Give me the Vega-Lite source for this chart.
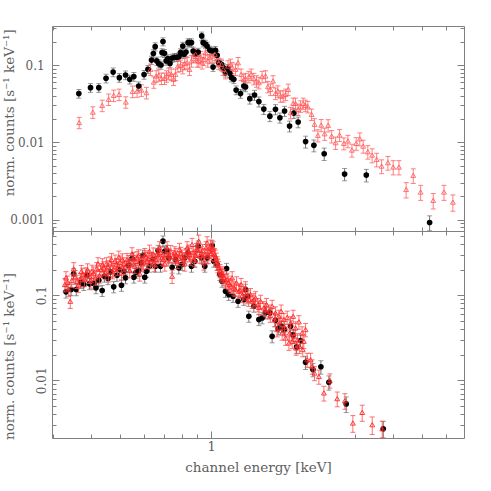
{
"$schema": "https://vega.github.io/schema/vega-lite/v6.json",
"padding": {"left": 1, "top": 22, "right": 5, "bottom": 5},
"config": {
  "view": {"stroke": null},
  "axis": {"grid": false, "domainColor": "#808080", "tickColor": "#808080", "labelColor": "#606060", "titleColor": "#606060", "labelFont": "DejaVu Serif", "titleFont": "DejaVu Serif", "labelFontSize": 12, "titleFontSize": 13.5, "titleFontWeight": "normal", "domainWidth": 1, "tickWidth": 1, "labelOverlap": false}
},
"datasets": {
"topBlack": [
{"e":0.365,"v":0.0427,"err":0.0055},{"e":0.399,"v":0.0509,"err":0.0066},{"e":0.425,"v":0.0509,"err":0.0066},{"e":0.449,"v":0.0673,"err":0.0087},{"e":0.474,"v":0.0811,"err":0.0105},{"e":0.497,"v":0.0687,"err":0.0089},{"e":0.521,"v":0.0742,"err":0.0096},{"e":0.538,"v":0.0653,"err":0.0085},{"e":0.555,"v":0.0708,"err":0.0092},{"e":0.576,"v":0.0535,"err":0.007},{"e":0.6,"v":0.0752,"err":0.0098},{"e":0.618,"v":0.088,"err":0.0106},{"e":0.635,"v":0.116,"err":0.014},{"e":0.644,"v":0.141,"err":0.017},{"e":0.653,"v":0.173,"err":0.021},{"e":0.661,"v":0.113,"err":0.0136},{"e":0.671,"v":0.104,"err":0.0125},{"e":0.683,"v":0.1,"err":0.012},{"e":0.688,"v":0.145,"err":0.0174},{"e":0.693,"v":0.201,"err":0.024},{"e":0.701,"v":0.142,"err":0.017},{"e":0.71,"v":0.113,"err":0.0136},{"e":0.719,"v":0.121,"err":0.0145},{"e":0.731,"v":0.105,"err":0.0126},{"e":0.743,"v":0.123,"err":0.0148},{"e":0.757,"v":0.126,"err":0.0151},{"e":0.77,"v":0.126,"err":0.0151},{"e":0.782,"v":0.128,"err":0.0154},{"e":0.792,"v":0.145,"err":0.0174},{"e":0.798,"v":0.141,"err":0.0169},{"e":0.806,"v":0.176,"err":0.021},{"e":0.814,"v":0.138,"err":0.0166},{"e":0.826,"v":0.147,"err":0.0176},{"e":0.839,"v":0.195,"err":0.023},{"e":0.848,"v":0.195,"err":0.023},{"e":0.861,"v":0.195,"err":0.023},{"e":0.872,"v":0.152,"err":0.018},{"e":0.888,"v":0.138,"err":0.0166},{"e":0.906,"v":0.147,"err":0.0176},{"e":0.931,"v":0.238,"err":0.029},{"e":0.941,"v":0.195,"err":0.023},{"e":0.958,"v":0.187,"err":0.022},{"e":0.97,"v":0.176,"err":0.021},{"e":0.99,"v":0.156,"err":0.019},{"e":1.008,"v":0.152,"err":0.018},{"e":1.015,"v":0.094,"err":0.0113},{"e":1.034,"v":0.155,"err":0.019},{"e":1.047,"v":0.134,"err":0.016},{"e":1.06,"v":0.107,"err":0.0128},{"e":1.082,"v":0.102,"err":0.0122},{"e":1.096,"v":0.0925,"err":0.0111},{"e":1.116,"v":0.0797,"err":0.0096},{"e":1.138,"v":0.0906,"err":0.0109},{"e":1.153,"v":0.0781,"err":0.0094},{"e":1.168,"v":0.0687,"err":0.0082},{"e":1.189,"v":0.0653,"err":0.0078},{"e":1.21,"v":0.0474,"err":0.0062},{"e":1.251,"v":0.0427,"err":0.0056},{"e":1.283,"v":0.0535,"err":0.007},{"e":1.3,"v":0.0519,"err":0.0067},{"e":1.343,"v":0.0367,"err":0.0055},{"e":1.392,"v":0.0409,"err":0.0061},{"e":1.439,"v":0.0336,"err":0.005},{"e":1.494,"v":0.0269,"err":0.004},{"e":1.565,"v":0.0218,"err":0.0033},{"e":1.633,"v":0.0267,"err":0.004},{"e":1.689,"v":0.0208,"err":0.0031},{"e":1.75,"v":0.0254,"err":0.0038},{"e":1.818,"v":0.0162,"err":0.0026},{"e":1.879,"v":0.0239,"err":0.0036},{"e":1.941,"v":0.0183,"err":0.0029},{"e":2.054,"v":0.0102,"err":0.0018},{"e":2.188,"v":0.00912,"err":0.0016},{"e":2.367,"v":0.00711,"err":0.0013},{"e":2.765,"v":0.00387,"err":0.0007},{"e":3.262,"v":0.00376,"err":0.0007},{"e":5.285,"v":0.000916,"err":0.0002}
],
"topRed": [
{"e":0.366,"v":0.018,"err":0.003},{"e":0.406,"v":0.0246,"err":0.0042},{"e":0.436,"v":0.03,"err":0.0051},{"e":0.458,"v":0.036,"err":0.0061},{"e":0.476,"v":0.0405,"err":0.0069},{"e":0.496,"v":0.0417,"err":0.0071},{"e":0.522,"v":0.0332,"err":0.0056},{"e":0.55,"v":0.0456,"err":0.0078},{"e":0.569,"v":0.046,"err":0.0078},{"e":0.588,"v":0.0474,"err":0.0081},{"e":0.611,"v":0.0439,"err":0.0075},{"e":0.63,"v":0.088,"err":0.015},{"e":0.646,"v":0.0602,"err":0.0102},{"e":0.658,"v":0.0721,"err":0.0123},{"e":0.671,"v":0.0742,"err":0.0126},{"e":0.685,"v":0.0673,"err":0.0114},{"e":0.701,"v":0.0673,"err":0.0114},{"e":0.712,"v":0.0721,"err":0.0123},{"e":0.724,"v":0.0781,"err":0.0133},{"e":0.738,"v":0.0758,"err":0.0129},{"e":0.751,"v":0.0653,"err":0.0111},{"e":0.762,"v":0.0758,"err":0.0129},{"e":0.776,"v":0.0971,"err":0.0165},{"e":0.792,"v":0.0991,"err":0.0168},{"e":0.806,"v":0.0925,"err":0.0157},{"e":0.818,"v":0.105,"err":0.0179},{"e":0.833,"v":0.107,"err":0.0182},{"e":0.848,"v":0.088,"err":0.015},{"e":0.861,"v":0.113,"err":0.0192},{"e":0.877,"v":0.131,"err":0.0223},{"e":0.888,"v":0.138,"err":0.0235},{"e":0.899,"v":0.113,"err":0.0192},{"e":0.91,"v":0.113,"err":0.0192},{"e":0.923,"v":0.128,"err":0.0218},{"e":0.934,"v":0.107,"err":0.0182},{"e":0.946,"v":0.1186,"err":0.0202},{"e":0.958,"v":0.145,"err":0.0247},{"e":0.975,"v":0.113,"err":0.0192},{"e":0.99,"v":0.125,"err":0.0213},{"e":1.008,"v":0.131,"err":0.0223},{"e":1.029,"v":0.138,"err":0.0235},{"e":1.047,"v":0.116,"err":0.0197},{"e":1.06,"v":0.105,"err":0.0179},{"e":1.082,"v":0.102,"err":0.0173},{"e":1.096,"v":0.088,"err":0.015},{"e":1.116,"v":0.0797,"err":0.0135},{"e":1.138,"v":0.0971,"err":0.0165},{"e":1.159,"v":0.102,"err":0.0173},{"e":1.174,"v":0.0925,"err":0.0157},{"e":1.205,"v":0.088,"err":0.015},{"e":1.228,"v":0.107,"err":0.0182},{"e":1.257,"v":0.0758,"err":0.0129},{"e":1.283,"v":0.0653,"err":0.0111},{"e":1.3,"v":0.0667,"err":0.0113},{"e":1.333,"v":0.0708,"err":0.012},{"e":1.357,"v":0.0758,"err":0.0129},{"e":1.385,"v":0.0667,"err":0.0113},{"e":1.413,"v":0.0621,"err":0.0106},{"e":1.439,"v":0.0592,"err":0.0101},{"e":1.475,"v":0.0708,"err":0.012},{"e":1.514,"v":0.0721,"err":0.0123},{"e":1.541,"v":0.0525,"err":0.0089},{"e":1.573,"v":0.0484,"err":0.0082},{"e":1.603,"v":0.0621,"err":0.0106},{"e":1.633,"v":0.043,"err":0.0073},{"e":1.663,"v":0.046,"err":0.0078},{"e":1.698,"v":0.0397,"err":0.0067},{"e":1.731,"v":0.0397,"err":0.0067},{"e":1.764,"v":0.0417,"err":0.0071},{"e":1.799,"v":0.0484,"err":0.0082},{"e":1.832,"v":0.0242,"err":0.0041},{"e":1.868,"v":0.0319,"err":0.0054},{"e":1.903,"v":0.0319,"err":0.0054},{"e":1.941,"v":0.0267,"err":0.0045},{"e":1.977,"v":0.0294,"err":0.005},{"e":2.017,"v":0.0319,"err":0.0054},{"e":2.054,"v":0.03,"err":0.0051},{"e":2.09,"v":0.0289,"err":0.0049},{"e":2.15,"v":0.023,"err":0.0039},{"e":2.199,"v":0.0171,"err":0.0031},{"e":2.255,"v":0.0123,"err":0.0022},{"e":2.313,"v":0.0167,"err":0.003},{"e":2.375,"v":0.0129,"err":0.0023},{"e":2.439,"v":0.0166,"err":0.003},{"e":2.505,"v":0.012,"err":0.0022},{"e":2.582,"v":0.00988,"err":0.0018},{"e":2.662,"v":0.0124,"err":0.0022},{"e":2.75,"v":0.00968,"err":0.0017},{"e":2.836,"v":0.0104,"err":0.0019},{"e":2.924,"v":0.00793,"err":0.0015},{"e":3.02,"v":0.00968,"err":0.0018},{"e":3.105,"v":0.0111,"err":0.0021},{"e":3.186,"v":0.00893,"err":0.0017},{"e":3.3,"v":0.00755,"err":0.0015},{"e":3.41,"v":0.00682,"err":0.0014},{"e":3.53,"v":0.006,"err":0.0012},{"e":3.665,"v":0.00492,"err":0.001},{"e":3.846,"v":0.00545,"err":0.0011},{"e":4.005,"v":0.00478,"err":0.001},{"e":4.183,"v":0.00478,"err":0.001},{"e":4.42,"v":0.00245,"err":0.00055},{"e":4.666,"v":0.00373,"err":0.0008},{"e":4.935,"v":0.00227,"err":0.0005},{"e":5.433,"v":0.00177,"err":0.0004},{"e":5.896,"v":0.00227,"err":0.0005},{"e":6.31,"v":0.00168,"err":0.0004}
],
"botBlack": [
{"e":0.331,"v":0.1096,"err":0.017},{"e":0.344,"v":0.1167,"err":0.018},{"e":0.351,"v":0.1785,"err":0.027},{"e":0.358,"v":0.1167,"err":0.018},{"e":0.371,"v":0.141,"err":0.021},{"e":0.379,"v":0.1336,"err":0.02},{"e":0.3885,"v":0.1719,"err":0.026},{"e":0.396,"v":0.1362,"err":0.02},{"e":0.409,"v":0.1373,"err":0.021},{"e":0.416,"v":0.1222,"err":0.018},{"e":0.425,"v":0.1501,"err":0.023},{"e":0.436,"v":0.1136,"err":0.017},{"e":0.4436,"v":0.1673,"err":0.025},{"e":0.456,"v":0.1572,"err":0.024},{"e":0.4645,"v":0.1885,"err":0.028},{"e":0.476,"v":0.1256,"err":0.019},{"e":0.488,"v":0.1719,"err":0.026},{"e":0.497,"v":0.2006,"err":0.03},{"e":0.505,"v":0.1311,"err":0.02},{"e":0.514,"v":0.1915,"err":0.029},{"e":0.521,"v":0.1602,"err":0.024},{"e":0.534,"v":0.2254,"err":0.034},{"e":0.5475,"v":0.27,"err":0.04},{"e":0.555,"v":0.1628,"err":0.024},{"e":0.5645,"v":0.1864,"err":0.028},{"e":0.576,"v":0.1952,"err":0.029},{"e":0.5864,"v":0.2405,"err":0.036},{"e":0.594,"v":0.2955,"err":0.044},{"e":0.6031,"v":0.1628,"err":0.024},{"e":0.611,"v":0.1915,"err":0.029},{"e":0.6252,"v":0.2194,"err":0.033},{"e":0.641,"v":0.263,"err":0.039},{"e":0.6544,"v":0.2194,"err":0.033},{"e":0.6676,"v":0.336,"err":0.05},{"e":0.68,"v":0.2194,"err":0.033},{"e":0.693,"v":0.432,"err":0.065},{"e":0.7026,"v":0.329,"err":0.049},{"e":0.7149,"v":0.336,"err":0.05},{"e":0.724,"v":0.2754,"err":0.041},{"e":0.743,"v":0.2135,"err":0.032},{"e":0.762,"v":0.263,"err":0.039},{"e":0.782,"v":0.21,"err":0.032},{"e":0.8017,"v":0.2297,"err":0.034},{"e":0.818,"v":0.2754,"err":0.041},{"e":0.839,"v":0.315,"err":0.047},{"e":0.861,"v":0.2194,"err":0.033},{"e":0.883,"v":0.251,"err":0.038},{"e":0.906,"v":0.377,"err":0.057},{"e":0.929,"v":0.2754,"err":0.041},{"e":0.953,"v":0.2194,"err":0.033},{"e":0.97,"v":0.2754,"err":0.041},{"e":1.008,"v":0.384,"err":0.058},{"e":1.021,"v":0.251,"err":0.038},{"e":1.047,"v":0.2297,"err":0.034},{"e":1.069,"v":0.1752,"err":0.026},{"e":1.087,"v":0.1461,"err":0.022},{"e":1.116,"v":0.1114,"err":0.017},{"e":1.125,"v":0.206,"err":0.031},{"e":1.144,"v":0.1019,"err":0.015},{"e":1.182,"v":0.0973,"err":0.015},{"e":1.228,"v":0.085,"err":0.013},{"e":1.283,"v":0.089,"err":0.013},{"e":1.3,"v":0.1167,"err":0.018},{"e":1.323,"v":0.0973,"err":0.015},{"e":1.333,"v":0.0566,"err":0.0085},{"e":1.385,"v":0.0742,"err":0.011},{"e":1.439,"v":0.0518,"err":0.0078},{"e":1.475,"v":0.0542,"err":0.0081},{"e":1.514,"v":0.0621,"err":0.0093},{"e":1.565,"v":0.0621,"err":0.0093},{"e":1.592,"v":0.0329,"err":0.0053},{"e":1.633,"v":0.0508,"err":0.0081},{"e":1.667,"v":0.0406,"err":0.0065},{"e":1.71,"v":0.0432,"err":0.0069},{"e":1.75,"v":0.0395,"err":0.0063},{"e":1.832,"v":0.0432,"err":0.0069},{"e":1.868,"v":0.0342,"err":0.0055},{"e":1.918,"v":0.0247,"err":0.004},{"e":1.977,"v":0.0293,"err":0.0047},{"e":2.054,"v":0.0163,"err":0.0029},{"e":2.172,"v":0.0134,"err":0.0024},{"e":2.308,"v":0.0144,"err":0.0026},{"e":2.453,"v":0.00947,"err":0.0018},{"e":2.799,"v":0.00528,"err":0.0011},{"e":3.712,"v":0.0027,"err":0.0006}
],
"botRed": [
{"e":0.328,"v":0.1336,"err":0.024},{"e":0.331,"v":0.1602,"err":0.029},{"e":0.342,"v":0.085,"err":0.015},{"e":0.351,"v":0.2045,"err":0.037},{"e":0.36,"v":0.1461,"err":0.026},{"e":0.369,"v":0.153,"err":0.028},{"e":0.376,"v":0.1752,"err":0.032},{"e":0.3855,"v":0.1785,"err":0.032},{"e":0.396,"v":0.1673,"err":0.03},{"e":0.4036,"v":0.1915,"err":0.034},{"e":0.4143,"v":0.1602,"err":0.029},{"e":0.4224,"v":0.234,"err":0.042},{"e":0.4322,"v":0.2006,"err":0.036},{"e":0.4412,"v":0.21,"err":0.038},{"e":0.4503,"v":0.234,"err":0.042},{"e":0.458,"v":0.1752,"err":0.032},{"e":0.468,"v":0.263,"err":0.047},{"e":0.476,"v":0.2006,"err":0.036},{"e":0.486,"v":0.2297,"err":0.041},{"e":0.495,"v":0.28,"err":0.05},{"e":0.505,"v":0.1834,"err":0.033},{"e":0.514,"v":0.234,"err":0.042},{"e":0.527,"v":0.263,"err":0.047},{"e":0.538,"v":0.1952,"err":0.035},{"e":0.5475,"v":0.307,"err":0.055},{"e":0.559,"v":0.2194,"err":0.039},{"e":0.569,"v":0.2754,"err":0.05},{"e":0.5806,"v":0.1785,"err":0.032},{"e":0.5909,"v":0.234,"err":0.042},{"e":0.6031,"v":0.301,"err":0.054},{"e":0.6138,"v":0.251,"err":0.045},{"e":0.6252,"v":0.329,"err":0.059},{"e":0.6377,"v":0.27,"err":0.049},{"e":0.6494,"v":0.2297,"err":0.041},{"e":0.6625,"v":0.301,"err":0.054},{"e":0.6747,"v":0.361,"err":0.065},{"e":0.688,"v":0.2754,"err":0.05},{"e":0.7026,"v":0.234,"err":0.042},{"e":0.7149,"v":0.361,"err":0.065},{"e":0.728,"v":0.2955,"err":0.053},{"e":0.743,"v":0.1673,"err":0.03},{"e":0.758,"v":0.315,"err":0.057},{"e":0.7717,"v":0.251,"err":0.045},{"e":0.786,"v":0.345,"err":0.062},{"e":0.8017,"v":0.2876,"err":0.052},{"e":0.818,"v":0.234,"err":0.042},{"e":0.833,"v":0.361,"err":0.065},{"e":0.848,"v":0.301,"err":0.054},{"e":0.865,"v":0.395,"err":0.071},{"e":0.881,"v":0.263,"err":0.047},{"e":0.895,"v":0.345,"err":0.062},{"e":0.91,"v":0.432,"err":0.078},{"e":0.929,"v":0.315,"err":0.057},{"e":0.946,"v":0.2405,"err":0.043},{"e":0.9625,"v":0.361,"err":0.065},{"e":0.9775,"v":0.2876,"err":0.052},{"e":0.97,"v":0.4135,"err":0.074},{"e":0.9954,"v":0.377,"err":0.068},{"e":1.008,"v":0.345,"err":0.062},{"e":1.026,"v":0.301,"err":0.054},{"e":1.034,"v":0.2876,"err":0.052},{"e":1.047,"v":0.2405,"err":0.043},{"e":1.06,"v":0.21,"err":0.038},{"e":1.087,"v":0.1834,"err":0.033},{"e":1.102,"v":0.1602,"err":0.029},{"e":1.13,"v":0.153,"err":0.028},{"e":1.153,"v":0.1336,"err":0.024},{"e":1.174,"v":0.1602,"err":0.029},{"e":1.189,"v":0.1222,"err":0.022},{"e":1.214,"v":0.1399,"err":0.025},{"e":1.235,"v":0.1114,"err":0.02},{"e":1.257,"v":0.1336,"err":0.024},{"e":1.283,"v":0.1067,"err":0.019},{"e":1.3,"v":0.1222,"err":0.022},{"e":1.316,"v":0.0973,"err":0.018},{"e":1.35,"v":0.1019,"err":0.018},{"e":1.367,"v":0.085,"err":0.015},{"e":1.403,"v":0.0932,"err":0.017},{"e":1.428,"v":0.0777,"err":0.014},{"e":1.458,"v":0.085,"err":0.015},{"e":1.494,"v":0.0711,"err":0.013},{"e":1.525,"v":0.0777,"err":0.014},{"e":1.553,"v":0.0648,"err":0.012},{"e":1.592,"v":0.0742,"err":0.013},{"e":1.633,"v":0.0621,"err":0.011},{"e":1.654,"v":0.0395,"err":0.0071},{"e":1.676,"v":0.0566,"err":0.01},{"e":1.705,"v":0.0648,"err":0.012},{"e":1.718,"v":0.0361,"err":0.0065},{"e":1.741,"v":0.0518,"err":0.0093},{"e":1.764,"v":0.0315,"err":0.0057},{"e":1.786,"v":0.0551,"err":0.0099},{"e":1.809,"v":0.0275,"err":0.005},{"e":1.832,"v":0.0474,"err":0.0085},{"e":1.855,"v":0.0288,"err":0.0052},{"e":1.868,"v":0.0566,"err":0.01},{"e":1.903,"v":0.0413,"err":0.0074},{"e":1.91,"v":0.024,"err":0.0043},{"e":1.952,"v":0.0487,"err":0.0088},{"e":1.96,"v":0.0251,"err":0.0045},{"e":2.001,"v":0.0361,"err":0.0065},{"e":2.01,"v":0.023,"err":0.0041},{"e":2.027,"v":0.0288,"err":0.0052},{"e":2.054,"v":0.0395,"err":0.0071},{"e":2.079,"v":0.0175,"err":0.0033},{"e":2.134,"v":0.0175,"err":0.0033},{"e":2.16,"v":0.0146,"err":0.0028},{"e":2.199,"v":0.0122,"err":0.0023},{"e":2.273,"v":0.0111,"err":0.0021},{"e":2.362,"v":0.00711,"err":0.0014},{"e":2.472,"v":0.01,"err":0.0019},{"e":2.614,"v":0.00609,"err":0.0012},{"e":2.771,"v":0.00577,"err":0.0012},{"e":2.945,"v":0.00315,"err":0.0007},{"e":3.162,"v":0.0042,"err":0.0009},{"e":3.413,"v":0.00301,"err":0.0007},{"e":3.684,"v":0.0027,"err":0.0006},
{"e":0.335,"v":0.142,"err":0.026},{"e":0.338,"v":0.118,"err":0.021},{"e":0.346,"v":0.15,"err":0.027},{"e":0.355,"v":0.165,"err":0.03},{"e":0.364,"v":0.132,"err":0.024},{"e":0.372,"v":0.19,"err":0.034},{"e":0.381,"v":0.155,"err":0.028},{"e":0.39,"v":0.198,"err":0.036},{"e":0.4,"v":0.148,"err":0.027},{"e":0.408,"v":0.182,"err":0.033},{"e":0.418,"v":0.205,"err":0.037},{"e":0.427,"v":0.17,"err":0.031},{"e":0.437,"v":0.228,"err":0.041},{"e":0.446,"v":0.185,"err":0.033},{"e":0.455,"v":0.215,"err":0.039},{"e":0.463,"v":0.24,"err":0.043},{"e":0.472,"v":0.19,"err":0.034},{"e":0.481,"v":0.252,"err":0.045},{"e":0.49,"v":0.21,"err":0.038},{"e":0.5,"v":0.245,"err":0.044},{"e":0.509,"v":0.26,"err":0.047},{"e":0.519,"v":0.215,"err":0.039},{"e":0.532,"v":0.248,"err":0.045},{"e":0.542,"v":0.228,"err":0.041},{"e":0.553,"v":0.27,"err":0.049},{"e":0.563,"v":0.25,"err":0.045},{"e":0.575,"v":0.29,"err":0.052},{"e":0.585,"v":0.262,"err":0.047},{"e":0.597,"v":0.245,"err":0.044},{"e":0.608,"v":0.282,"err":0.051},{"e":0.619,"v":0.27,"err":0.049},{"e":0.631,"v":0.25,"err":0.045},{"e":0.643,"v":0.305,"err":0.055},{"e":0.656,"v":0.262,"err":0.047},{"e":0.668,"v":0.29,"err":0.052},{"e":0.681,"v":0.318,"err":0.057},{"e":0.695,"v":0.265,"err":0.048},{"e":0.708,"v":0.3,"err":0.054},{"e":0.721,"v":0.268,"err":0.048},{"e":0.735,"v":0.325,"err":0.059},{"e":0.75,"v":0.285,"err":0.051},{"e":0.765,"v":0.3,"err":0.054},{"e":0.779,"v":0.272,"err":0.049},{"e":0.794,"v":0.31,"err":0.056},{"e":0.81,"v":0.268,"err":0.048},{"e":0.826,"v":0.3,"err":0.054},{"e":0.841,"v":0.33,"err":0.059},{"e":0.856,"v":0.275,"err":0.05},{"e":0.873,"v":0.318,"err":0.057},{"e":0.888,"v":0.295,"err":0.053},{"e":0.903,"v":0.34,"err":0.061},{"e":0.918,"v":0.29,"err":0.052},{"e":0.937,"v":0.335,"err":0.06},{"e":0.955,"v":0.3,"err":0.054},{"e":0.985,"v":0.33,"err":0.059},{"e":1.002,"v":0.31,"err":0.056},{"e":1.015,"v":0.36,"err":0.065},{"e":1.04,"v":0.265,"err":0.048},{"e":1.053,"v":0.225,"err":0.041},{"e":1.07,"v":0.195,"err":0.035},{"e":1.078,"v":0.175,"err":0.032},{"e":1.095,"v":0.17,"err":0.031},{"e":1.115,"v":0.148,"err":0.027},{"e":1.14,"v":0.142,"err":0.026},{"e":1.165,"v":0.128,"err":0.023},{"e":1.2,"v":0.118,"err":0.021},{"e":1.245,"v":0.115,"err":0.021},{"e":1.27,"v":0.1,"err":0.018},{"e":1.33,"v":0.09,"err":0.016},{"e":1.385,"v":0.0885,"err":0.016},{"e":1.44,"v":0.072,"err":0.013},{"e":1.51,"v":0.068,"err":0.012},{"e":1.57,"v":0.058,"err":0.01},{"e":1.62,"v":0.052,"err":0.0094},{"e":1.69,"v":0.047,"err":0.0085},{"e":1.75,"v":0.042,"err":0.0076},{"e":1.82,"v":0.036,"err":0.0065},{"e":1.88,"v":0.033,"err":0.006},{"e":1.93,"v":0.03,"err":0.0054}
]
},
"vconcat": [
{
  "width": 412, "height": 205,
  "resolve": {"axis": {"x": "independent", "y": "independent"}},
  "layer": [
    {"data": {"name": "topBlack"},
     "mark": {"type": "errorbar", "ticks": {"size": 5}, "color": "#707070", "thickness": 1},
     "encoding": {
       "x": {"field": "e", "type": "quantitative", "scale": {"type": "log", "domain": [0.2975, 6.868], "nice": false}, "axis": null},
       "y": {"field": "v", "type": "quantitative", "scale": {"type": "log", "domain": [0.00071, 0.3202], "nice": false}, "axis": null},
       "yError": {"field": "err"}
     }},
    {"data": {"name": "topRed"},
     "mark": {"type": "errorbar", "ticks": {"size": 5}, "color": "#ff6a6a", "thickness": 1, "opacity": 0.85},
     "encoding": {
       "x": {"field": "e", "type": "quantitative", "scale": {"type": "log", "domain": [0.2975, 6.868], "nice": false}, "axis": null},
       "y": {"field": "v", "type": "quantitative", "scale": {"type": "log", "domain": [0.00071, 0.3202], "nice": false}, "axis": null},
       "yError": {"field": "err"}
     }},
    {"data": {"name": "topBlack"},
     "mark": {"type": "point", "shape": "circle", "filled": true, "color": "#000000", "size": 32, "opacity": 1},
     "encoding": {
       "x": {"field": "e", "type": "quantitative", "scale": {"type": "log", "domain": [0.2975, 6.868], "nice": false},
             "axis": {"orient": "bottom", "values": [0.3,0.4,0.5,0.6,0.7,0.8,0.9,1,2,3,4,5,6], "labels": false, "title": null,
                      "tickSize": {"condition": {"test": "datum.value == 1", "value": -7}, "value": -4}}},
       "y": {"field": "v", "type": "quantitative", "scale": {"type": "log", "domain": [0.00071, 0.3202], "nice": false},
             "axis": {"orient": "left", "values": [0.0008,0.0009,0.001,0.002,0.003,0.004,0.005,0.006,0.007,0.008,0.009,0.01,0.02,0.03,0.04,0.05,0.06,0.07,0.08,0.09,0.1,0.2,0.3],
                      "labelExpr": "datum.value == 0.1 ? '0.1' : datum.value == 0.01 ? '0.01' : datum.value == 0.001 ? '0.001' : ''",
                      "labelPadding": 14.8,
                      "tickSize": {"condition": {"test": "datum.value == 0.1 || datum.value == 0.01 || datum.value == 0.001", "value": -7}, "value": -4},
                      "title": "norm. counts [s⁻¹ keV⁻¹]", "titleX": -43, "titleY": 86.3, "titleAlign": "center", "titleBaseline": "middle", "titleAngle": -90}}
     }},
    {"data": {"name": "topRed"},
     "mark": {"type": "point", "shape": "triangle-up", "filled": false, "stroke": "#ff5555", "strokeWidth": 1, "size": 24, "opacity": 0.8},
     "encoding": {
       "x": {"field": "e", "type": "quantitative", "scale": {"type": "log", "domain": [0.2975, 6.868], "nice": false},
             "axis": {"orient": "top", "values": [0.3,0.4,0.5,0.6,0.7,0.8,0.9,1,2,3,4,5,6], "labels": false, "title": null,
                      "tickSize": {"condition": {"test": "datum.value == 1", "value": -7}, "value": -4}}},
       "y": {"field": "v", "type": "quantitative", "scale": {"type": "log", "domain": [0.00071, 0.3202], "nice": false},
             "axis": {"orient": "right", "values": [0.0008,0.0009,0.001,0.002,0.003,0.004,0.005,0.006,0.007,0.008,0.009,0.01,0.02,0.03,0.04,0.05,0.06,0.07,0.08,0.09,0.1,0.2,0.3],
                      "labels": false, "title": null,
                      "tickSize": {"condition": {"test": "datum.value == 0.1 || datum.value == 0.01 || datum.value == 0.001", "value": -7}, "value": -4}}}
     }}
  ]
},
{
  "width": 412, "height": 207,
  "resolve": {"axis": {"x": "independent", "y": "independent"}},
  "layer": [
    {"data": {"name": "botBlack"},
     "mark": {"type": "errorbar", "ticks": {"size": 5}, "color": "#707070", "thickness": 1},
     "encoding": {
       "x": {"field": "e", "type": "quantitative", "scale": {"type": "log", "domain": [0.2975, 6.868], "nice": false}, "axis": null},
       "y": {"field": "v", "type": "quantitative", "scale": {"type": "log", "domain": [0.0021, 0.569], "nice": false}, "axis": null},
       "yError": {"field": "err"}
     }},
    {"data": {"name": "botBlack"},
     "mark": {"type": "point", "shape": "circle", "filled": true, "color": "#000000", "size": 32, "opacity": 1},
     "encoding": {
       "x": {"field": "e", "type": "quantitative", "scale": {"type": "log", "domain": [0.2975, 6.868], "nice": false},
             "axis": {"orient": "bottom", "values": [0.3,0.4,0.5,0.6,0.7,0.8,0.9,1,2,3,4,5,6],
                      "labelExpr": "datum.value == 1 ? '1' : ''", "labelPadding": 9, "labelFontSize": 13,
                      "tickSize": {"condition": {"test": "datum.value == 1", "value": -7}, "value": -4},
                      "title": "channel energy [keV]", "titleY": 29, "titleBaseline": "middle"}},
       "y": {"field": "v", "type": "quantitative", "scale": {"type": "log", "domain": [0.0021, 0.569], "nice": false},
             "axis": {"orient": "left", "values": [0.003,0.004,0.005,0.006,0.007,0.008,0.009,0.01,0.02,0.03,0.04,0.05,0.06,0.07,0.08,0.09,0.1,0.2,0.3,0.4,0.5],
                      "labelExpr": "datum.value == 0.1 ? '0.1' : datum.value == 0.01 ? '0.01' : ''",
                      "labelAngle": -90, "labelAlign": "center", "labelBaseline": "middle", "labelPadding": 17.3,
                      "tickSize": {"condition": {"test": "datum.value == 0.1 || datum.value == 0.01", "value": -7}, "value": -4},
                      "title": "norm. counts [s⁻¹ keV⁻¹]", "titleX": -43, "titleY": 125, "titleAlign": "center", "titleBaseline": "middle", "titleAngle": -90}}
     }},
    {"data": {"name": "botRed"},
     "mark": {"type": "errorbar", "ticks": {"size": 5}, "color": "#ff4d4d", "thickness": 1, "opacity": 0.8},
     "encoding": {
       "x": {"field": "e", "type": "quantitative", "scale": {"type": "log", "domain": [0.2975, 6.868], "nice": false}, "axis": null},
       "y": {"field": "v", "type": "quantitative", "scale": {"type": "log", "domain": [0.0021, 0.569], "nice": false}, "axis": null},
       "yError": {"field": "err"}
     }},
    {"data": {"name": "botRed"},
     "mark": {"type": "point", "shape": "triangle-up", "filled": false, "stroke": "#ff2020", "strokeWidth": 1, "size": 24, "opacity": 0.85},
     "encoding": {
       "x": {"field": "e", "type": "quantitative", "scale": {"type": "log", "domain": [0.2975, 6.868], "nice": false},
             "axis": {"orient": "top", "values": [0.3,0.4,0.5,0.6,0.7,0.8,0.9,1,2,3,4,5,6], "labels": false, "title": null,
                      "tickSize": {"condition": {"test": "datum.value == 1", "value": -7}, "value": -4}}},
       "y": {"field": "v", "type": "quantitative", "scale": {"type": "log", "domain": [0.0021, 0.569], "nice": false},
             "axis": {"orient": "right", "values": [0.003,0.004,0.005,0.006,0.007,0.008,0.009,0.01,0.02,0.03,0.04,0.05,0.06,0.07,0.08,0.09,0.1,0.2,0.3,0.4,0.5],
                      "labels": false, "title": null,
                      "tickSize": {"condition": {"test": "datum.value == 0.1 || datum.value == 0.01", "value": -7}, "value": -4}}}
     }}
  ]
}
],
"spacing": 0,
"bounds": "flush"
}
